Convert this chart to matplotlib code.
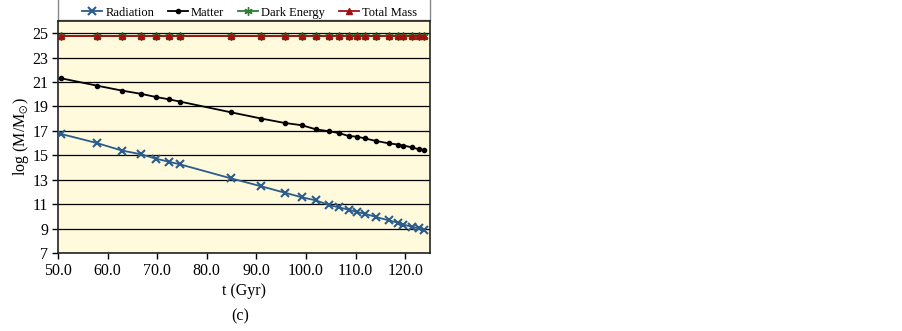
import matplotlib
matplotlib.use("Agg")
import matplotlib.pyplot as plt
from matplotlib.patches import Rectangle

# time points (Gyr)
t = [50.6, 57.8, 62.9, 66.8, 69.7, 72.3, 74.6, 84.9, 91.0, 95.7, 99.2, 102.0,
     104.6, 106.6, 108.6, 110.3, 111.8, 114.2, 116.7, 118.6, 119.6, 121.3, 122.8, 123.8]

radiation = [16.75, 16.01, 15.39, 15.08, 14.73, 14.48, 14.26, 13.11, 12.46, 11.94, 11.56, 11.31,
             10.93, 10.74, 10.55, 10.35, 10.22, 9.94, 9.67, 9.48, 9.32, 9.16, 9.02, 8.88]
matter = [21.31, 20.71, 20.30, 20.03, 19.78, 19.59, 19.40, 18.52, 18.01, 17.65, 17.46, 17.13,
          16.97, 16.83, 16.58, 16.53, 16.39, 16.17, 15.98, 15.88, 15.80, 15.66, 15.49, 15.41]
dark_energy = [24.76, 24.76, 24.76, 24.76, 24.76, 24.76, 24.76, 24.76, 24.76, 24.76, 24.76, 24.76,
               24.76, 24.76, 24.76, 24.76, 24.76, 24.76, 24.76, 24.76, 24.76, 24.76, 24.76, 24.76]
total_mass = [24.76, 24.76, 24.76, 24.76, 24.76, 24.76, 24.76, 24.76, 24.76, 24.76, 24.76, 24.76,
              24.76, 24.76, 24.76, 24.76, 24.76, 24.76, 24.76, 24.76, 24.76, 24.76, 24.76, 24.76]

plt.rcParams["font.family"] = ["Liberation Serif", "DejaVu Serif"]
plt.rcParams["mathtext.fontset"] = "stix"

fig = plt.figure(figsize=(9.02, 3.31), dpi=100)
ax = fig.add_axes([58 / 902, 1 - 253 / 331, (430 - 58) / 902, (253 - 21) / 331])
ax.set_facecolor("#FFFADC")

ax.plot(t, radiation, color="#2B5C8C", lw=1.3, marker="x", ms=6, mew=1.5, label="Radiation", zorder=3)
ax.plot(t, matter, color="black", lw=1.3, marker="o", ms=3, label="Matter", zorder=3)
ax.plot(t, dark_energy, color="#2E7D32", lw=1.3, marker=(6, 2, 0), ms=6, label="Dark Energy", zorder=2)
ax.plot(t, total_mass, color="#A01010", lw=1.3, marker="^", ms=5, label="Total Mass", zorder=3)

ax.set_xlim(50, 125)
ax.set_ylim(7, 26)
ax.set_xticks([50, 60, 70, 80, 90, 100, 110, 120])
ax.set_xticklabels(["50.0", "60.0", "70.0", "80.0", "90.0", "100.0", "110.0", "120.0"])
ax.set_yticks(range(7, 26, 2))
ax.yaxis.grid(True, color="black", lw=0.9)
ax.set_axisbelow(True)
ax.tick_params(axis="both", labelsize=11.5, direction="out", length=4, width=1, pad=3)
for s in ax.spines.values():
    s.set_color("#222222")
    s.set_linewidth(1.2)

ax.set_xlabel("t (Gyr)", fontsize=11.5, labelpad=3)
ax.set_ylabel(r"log (M/M$_{\odot}$)", fontsize=11.5, labelpad=1)

# legend box across the top of the plot (top edge runs off the figure)
fig.add_artist(Rectangle((58 / 902, 1 - 20 / 331), 372 / 902, 22 / 331, transform=fig.transFigure,
                         facecolor="white", edgecolor="#888888", lw=1.0, zorder=-1))
leg = ax.legend(loc="center", bbox_to_anchor=(0.515, 1.036), ncol=4,
                fontsize=9, frameon=False, borderaxespad=0, handlelength=1.6,
                handletextpad=0.25, columnspacing=1.1, borderpad=0.0)

fig.text(240 / 902, 1 - 316 / 331, "(c)", ha="center", va="center", fontsize=11.5)

fig.savefig("out.png", dpi=100)
